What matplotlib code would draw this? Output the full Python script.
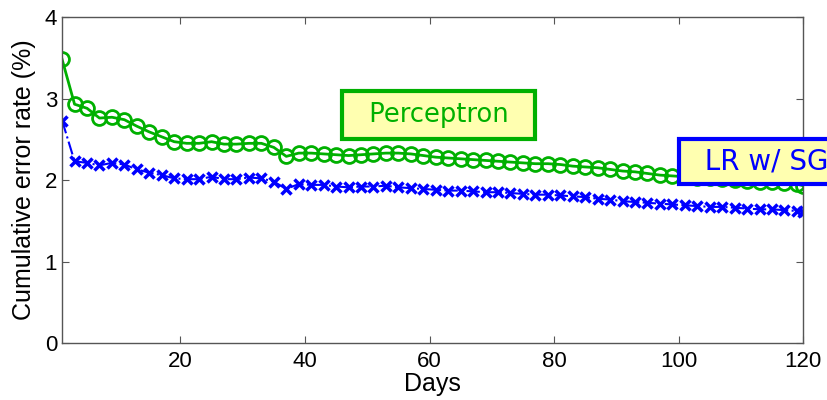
import numpy as np
import matplotlib.pyplot as plt

days = list(range(1, 120, 2)) + [120]

perceptron = [3.48, 2.93, 2.88, 2.76, 2.77, 2.74, 2.66, 2.59, 2.53, 2.47,
              2.45, 2.45, 2.47, 2.44, 2.44, 2.45, 2.45, 2.40, 2.29, 2.33,
              2.33, 2.32, 2.31, 2.30, 2.31, 2.32, 2.33, 2.33, 2.32, 2.30,
              2.28, 2.27, 2.26, 2.25, 2.24, 2.23, 2.22, 2.21, 2.20, 2.20,
              2.19, 2.17, 2.16, 2.15, 2.13, 2.11, 2.10, 2.08, 2.06, 2.05,
              2.04, 2.03, 2.02, 2.01, 2.00, 1.99, 1.98, 1.97, 1.96, 1.95,
              1.93]

lr_sg = [2.73, 2.23, 2.21, 2.18, 2.21, 2.19, 2.13, 2.09, 2.06, 2.02,
         2.01, 2.01, 2.04, 2.01, 2.01, 2.03, 2.02, 1.98, 1.89, 1.95,
         1.94, 1.94, 1.92, 1.91, 1.92, 1.92, 1.93, 1.91, 1.90, 1.89,
         1.88, 1.87, 1.87, 1.86, 1.85, 1.85, 1.84, 1.83, 1.82, 1.82,
         1.81, 1.80, 1.79, 1.77, 1.76, 1.74, 1.73, 1.72, 1.71, 1.70,
         1.69, 1.68, 1.67, 1.67, 1.66, 1.65, 1.64, 1.64, 1.63, 1.62,
         1.61]

xticks = [20, 40, 60, 80, 100, 120]
yticks = [0, 1, 2, 3, 4]

green = '#00b000'
blue = '#0000ff'
box_fill = '#ffffb0'

plt.rcParams['font.family'] = ['Liberation Sans', 'DejaVu Sans']

fig = plt.figure(figsize=(8.28, 4), dpi=100)
ax = fig.add_axes([0.075, 0.1425, 0.895, 0.815])

ax.plot(days, perceptron, '-', color=green, lw=2, marker='o', ms=10,
        mfc='none', mec=green, mew=2)
ax.plot(days, lr_sg, '-.', color=blue, lw=1.5, marker='x', ms=7,
        mec=blue, mew=2.5)

ax.set_xlim(1, 120)
ax.set_ylim(0, 4)
ax.set_xticks(xticks)
ax.set_yticks(yticks)
ax.tick_params(direction='in', length=5, labelsize=16, top=True, right=True,
               color='#555555')
ax.tick_params(axis='x', pad=6)
for s in ax.spines.values():
    s.set_color('#555555')
    s.set_linewidth(1)

ax.set_xlabel('Days', fontsize=18, labelpad=0)
ax.set_ylabel('Cumulative error rate (%)', fontsize=18, labelpad=6)

# annotation boxes
ax.text(61.45, 2.8, '  Perceptron  ', color=green, fontsize=18.5,
        family='DejaVu Sans', ha='center', va='center',
        bbox=dict(boxstyle='square,pad=0.42', fc=box_fill, ec=green, lw=3))
ax.text(101.4, 2.23, '  LR w/ SG', color=blue, fontsize=20,
        family='DejaVu Sans', ha='left', va='center', clip_on=False,
        bbox=dict(boxstyle='square,pad=0.31', fc=box_fill, ec=blue, lw=3))

fig.savefig('out.png', dpi=100)
